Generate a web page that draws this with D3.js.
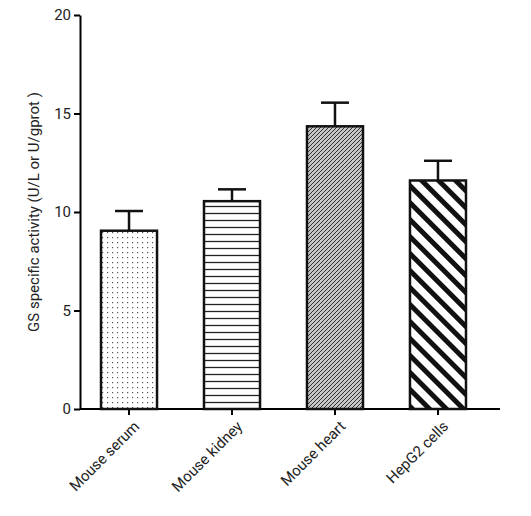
<!DOCTYPE html><html>
<head>
<style>
  body { margin:0; background:#fff; }
  text { font-family: Roboto, sans-serif; font-size:15px; fill:#222; }
</style>
</head><body>
<svg width="531" height="516"></svg>
<script src="https://cdn.jsdelivr.net/npm/d3@7"></script>
<script>
var samples = ['Mouse serum', 'Mouse kidney', 'Mouse heart', 'HepG2 cells'];
var activity = [9.05, 10.55, 14.35, 11.6];
var errors = [1.0, 0.6, 1.2, 1.0];
var yTicks = [0, 5, 10, 15, 20];
var fills = ['url(#dots)', 'url(#hlines)', 'url(#cross)', 'url(#diag)'];

var svg = d3.select('svg');
var defs = svg.append('defs');

var p = defs.append('pattern').attr('id','dots').attr('patternUnits','userSpaceOnUse').attr('width',5).attr('height',5);
p.append('rect').attr('x',2).attr('y',2).attr('width',1.2).attr('height',1.2).attr('fill','#555');

p = defs.append('pattern').attr('id','hlines').attr('patternUnits','userSpaceOnUse').attr('width',10).attr('height',7);
p.append('line').attr('x1',0).attr('x2',10).attr('y1',3.5).attr('y2',3.5).attr('stroke','#222').attr('stroke-width',1.3);

p = defs.append('pattern').attr('id','cross').attr('patternUnits','userSpaceOnUse').attr('width',4).attr('height',4);
p.append('rect').attr('width',4).attr('height',4).attr('fill','#c4c4c4');
p.append('path').attr('d','M0,4 L4,0 M-1,1 L1,-1 M3,5 L5,3').attr('stroke','#333').attr('stroke-width',1);
p.append('circle').attr('cx',0).attr('cy',0).attr('r',0.7).attr('fill','#eee');

p = defs.append('pattern').attr('id','diag').attr('patternUnits','userSpaceOnUse').attr('width',12).attr('height',12)
  .attr('patternTransform','rotate(-45)');
p.append('rect').attr('x',0).attr('y',0).attr('width',5).attr('height',12).attr('fill','#111');

var y = d3.scaleLinear().domain([0, 20]).range([409, 15]);
var x = d3.scaleBand().domain(samples).range([80, 487]).paddingInner(0.456).paddingOuter(0.204);

function styleText(sel){ sel.attr('font-size',15).attr('font-family','Roboto, sans-serif').attr('fill','#222'); }

svg.append('g').attr('transform','translate(80,0)')
  .call(d3.axisLeft(y).tickValues(yTicks).tickSize(6).tickSizeOuter(0).tickFormat(d3.format('d')))
  .call(function(g){ g.select('.domain').attr('stroke-width',2); g.selectAll('.tick line').attr('stroke-width',2); styleText(g.selectAll('text')); });

var xa = svg.append('g').attr('transform','translate(0,409)')
  .call(d3.axisBottom(x).tickSize(6).tickSizeOuter(0));
xa.select('.domain').attr('stroke-width',2).attr('d','M80,0H500');
xa.selectAll('.tick line').attr('stroke-width',2);
styleText(xa.selectAll('text'));
xa.selectAll('text').attr('text-anchor','end').attr('dx',0).attr('dy',0)
  .attr('transform','translate(5,12) rotate(-45)');

var g = svg.append('g');
g.selectAll('line.err').data(samples).enter().append('line')
  .attr('x1', function(d){ return x(d) + x.bandwidth()/2; })
  .attr('x2', function(d){ return x(d) + x.bandwidth()/2; })
  .attr('y1', function(d,i){ return y(activity[i]); })
  .attr('y2', function(d,i){ return y(activity[i] + errors[i]); })
  .attr('stroke','#111').attr('stroke-width',2.5);
g.selectAll('line.cap').data(samples).enter().append('line')
  .attr('x1', function(d){ return x(d) + x.bandwidth()/2 - 14; })
  .attr('x2', function(d){ return x(d) + x.bandwidth()/2 + 14; })
  .attr('y1', function(d,i){ return y(activity[i] + errors[i]); })
  .attr('y2', function(d,i){ return y(activity[i] + errors[i]); })
  .attr('stroke','#111').attr('stroke-width',2.5);
g.selectAll('rect').data(samples).enter().append('rect')
  .attr('x', function(d){ return x(d); })
  .attr('width', x.bandwidth())
  .attr('y', function(d,i){ return y(activity[i]); })
  .attr('height', function(d,i){ return 409 - y(activity[i]); })
  .attr('fill', function(d,i){ return fills[i]; })
  .attr('stroke','#111').attr('stroke-width',2.5);

svg.append('text').attr('transform','translate(39,212) rotate(-90)').attr('text-anchor','middle')
  .text('GS specific activity (U/L or U/gprot\u00a0)');
</script>
</body></html>
